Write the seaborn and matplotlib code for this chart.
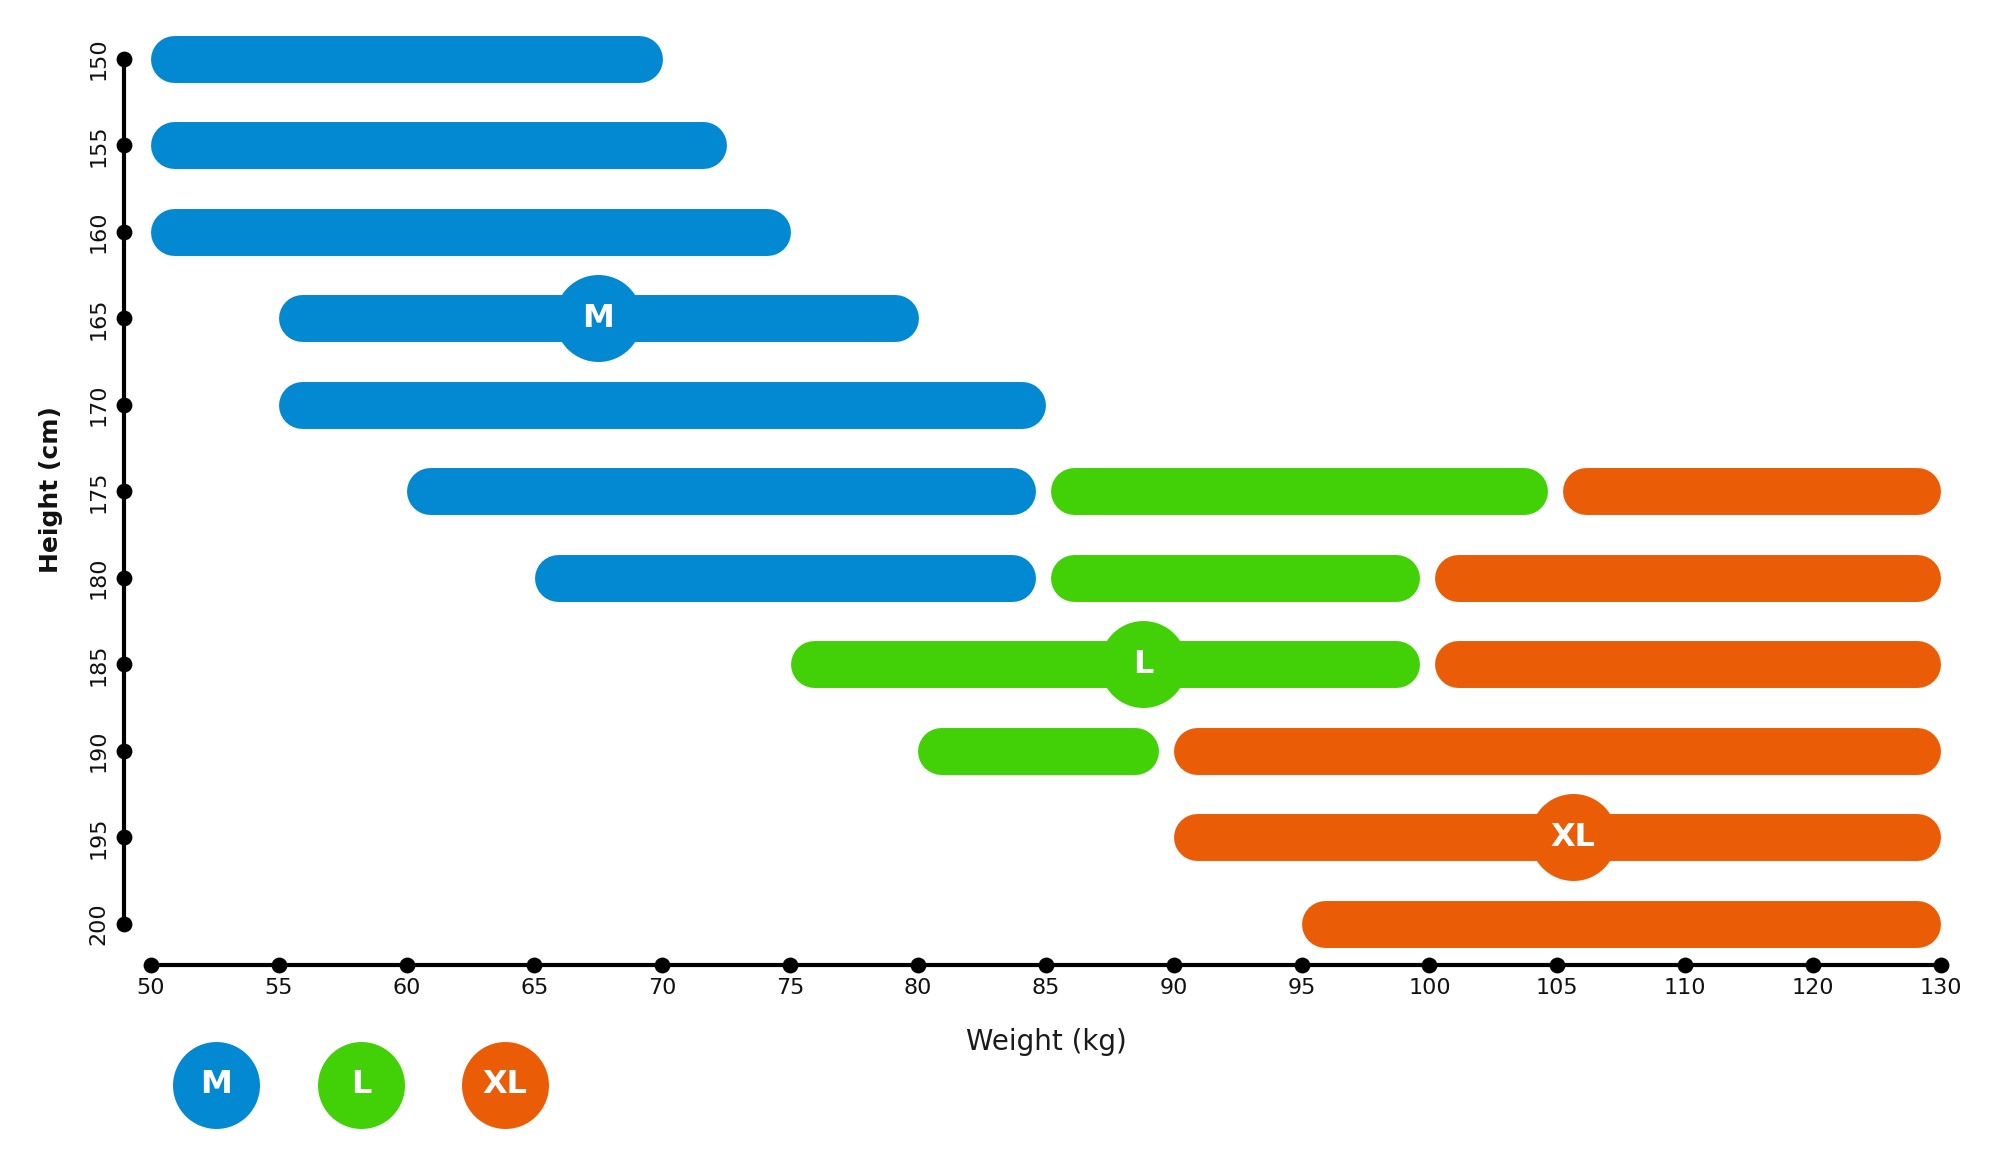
import numpy as np
import matplotlib
matplotlib.use("Agg")
import matplotlib.pyplot as plt
import seaborn as sns


# chart values
heights = [150, 155, 160, 165, 170, 175, 180, 185, 190, 195, 200]
weight_ticks = [50, 55, 60, 65, 70, 75, 80, 85, 90, 95, 100, 105, 110, 120, 130]

m_heights = [150, 155, 160, 165, 170, 175, 180]
m_from = [50, 50, 50, 55, 55, 60, 65]
m_to = [70, 72.5, 75, 80, 85, 84.6, 84.6]

l_heights = [175, 180, 185, 190]
l_from = [85.2, 85.2, 75, 80]
l_to = [104.6, 99.6, 99.6, 89.4]

xl_heights = [175, 180, 185, 190, 195, 200]
xl_from = [105.2, 100.2, 100.2, 90, 90, 95]
xl_to = [130, 130, 130, 130, 130, 130]

sizes = ["M", "L", "XL"]
badge_x = [67.5, 88.8, 105.6]
badge_y = [165, 185, 195]

colors = {"M": "#0388d2", "L": "#42d007", "XL": "#ea5d06"}


sns.set_theme(style="white")
plt.rcParams['font.family'] = ['DejaVu Sans']

# ticks are evenly spaced even though the steps are not (5, then 10 kg)
scale_vals = [45] + weight_ticks + [140]
scale_pos = list(range(-1, len(weight_ticks) + 1))


def fwd(v):
    return np.interp(v, scale_vals, scale_pos)


def inv(p):
    return np.interp(p, scale_pos, scale_vals)


fig = plt.figure(figsize=(20, 11.59), dpi=100)
ax = fig.add_axes([0.062, 0.167, 0.938, 0.833])
ax.set_xscale('function', functions=(fwd, inv))
ax.set_xlim(inv(-0.21), inv(14.463))
ax.set_ylim(202.4, 146.6)

bar_lw = 33.8
cap_r = 0.183   # cap radius in tick-step units


def draw_bars(hs, starts, ends, color):
    for h, a, b in zip(hs, starts, ends):
        p0 = fwd(a) + cap_r
        p1 = fwd(b) - cap_r
        ax.plot([inv(p0), inv(p1)], [h, h], color=color, lw=bar_lw,
                solid_capstyle='round', zorder=2)


draw_bars(m_heights, m_from, m_to, colors["M"])
draw_bars(l_heights, l_from, l_to, colors["L"])
draw_bars(xl_heights, xl_from, xl_to, colors["XL"])

for s, bx, by in zip(sizes, badge_x, badge_y):
    ax.scatter([bx], [by], s=3920, color=colors[s], linewidth=0, zorder=3)
    ax.text(bx, by, s, color="white", fontsize=23, fontweight="bold",
            ha="center", va="center", zorder=4)

# axes: lines with a dot on every tick
for side in ["top", "right"]:
    ax.spines[side].set_visible(False)
ax.spines["left"].set_bounds(150, 200)
ax.spines["bottom"].set_bounds(50, 130)
for side in ["left", "bottom"]:
    ax.spines[side].set_color("black")
    ax.spines[side].set_linewidth(3)

x0 = ax.get_xlim()[0]
y0 = ax.get_ylim()[0]
sns.scatterplot(x=[x0] * len(heights), y=heights, ax=ax, color="black",
                s=130, linewidth=0, clip_on=False, zorder=5)
sns.scatterplot(x=weight_ticks, y=[y0] * len(weight_ticks), ax=ax, color="black",
                s=130, linewidth=0, clip_on=False, zorder=5)

ax.set_yticks(heights)
ax.set_yticklabels([str(h) for h in heights], rotation=90, va="center")
ax.set_xticks(weight_ticks)
ax.set_xticklabels([str(w) for w in weight_ticks])
ax.xaxis.set_minor_locator(matplotlib.ticker.NullLocator())
ax.tick_params(axis="y", length=0, pad=11, labelsize=16, labelcolor="#111111")
ax.tick_params(axis="x", length=0, pad=9, labelsize=16, labelcolor="#111111")
ax.grid(False)

ax.set_xlabel("Weight (kg)", fontsize=20, color="#1a1a1a")
ax.xaxis.label.set_va("center")
ax.xaxis.set_label_coords(0.4915, -0.0795)
ax.set_ylabel("Height (cm)", fontsize=18, fontweight="bold", color="#111111")
ax.yaxis.label.set_va("center")
ax.yaxis.set_label_coords(-0.0389, 0.4928)

# legend badges below the chart
legend_x = [0.108, 0.1805, 0.2525]
for s, lx in zip(sizes, legend_x):
    ax.scatter([lx], [0.064], s=3920, color=colors[s], linewidth=0,
               transform=fig.transFigure, clip_on=False, zorder=3)
    ax.text(lx, 0.064, s, color="white", fontsize=23, fontweight="bold",
            ha="center", va="center", transform=fig.transFigure, zorder=4)

fig.savefig("out.png", dpi=100)
